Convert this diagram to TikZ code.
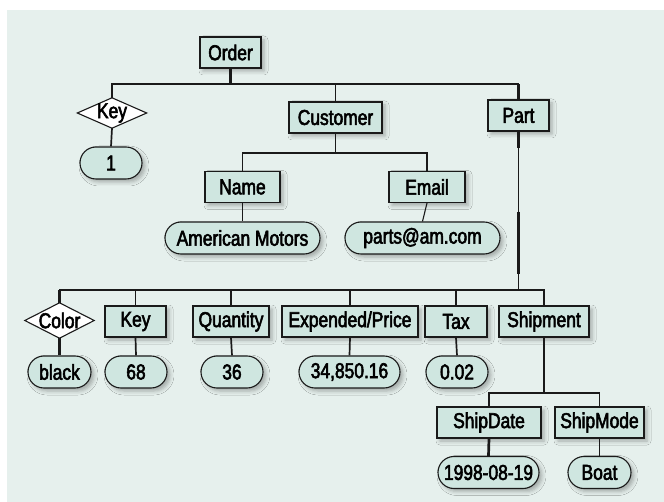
\documentclass[tikz,border=0pt]{standalone}
\usepackage{fontspec}
\setmainfont{Liberation Sans}[FakeStretch=0.81, FakeBold=2.6]
\usetikzlibrary{shapes.misc,shadows.blur}
\definecolor{panel}{HTML}{E6F0ED}
\definecolor{cellfill}{HTML}{CFE6E0}
\definecolor{wire}{HTML}{1A1A1A}
\tikzset{
  base/.style={inner sep=0pt, font=\fontsize{21.5}{25}\selectfont, text=black},
  soft/.style={blur shadow={shadow xshift=3pt, shadow yshift=-3pt, shadow blur radius=4pt, shadow opacity=30}},
  box/.style={base, rectangle, draw=wire, line width=1.1pt, fill=cellfill, soft, minimum height=31pt},
  pill/.style={base, rounded rectangle, draw=wire, line width=1.1pt, fill=cellfill, soft, minimum height=32pt},
  diaframe/.style={base, rectangle, minimum height=30pt},
  diafill/.style={draw=wire, line width=1.1pt, fill=white, line join=miter},
  label/.style={base},
  thin/.style={draw=wire, line width=1.1pt},
  mid/.style={draw=wire, line width=1.7pt},
  thick/.style={draw=wire, line width=2.7pt},
}
\begin{document}
\begin{tikzpicture}[x=1pt, y=-1pt]
\useasboundingbox (0,0) rectangle (664,502);
\fill[panel] (7,10) rectangle (664,502);

% bus lines
\coordinate (busA) at (0,84);
\coordinate (busB) at (0,153);
\coordinate (busC) at (0,290);
\coordinate (busD) at (0,393);

% top level
\node[box, minimum width=61pt] (order) at (230.5,52.5) {Order};
\node[box, minimum width=93pt] (customer) at (335.5,117.5) {Customer};
\node[box, minimum width=61pt] (part) at (518.5,115.5) {Part};

\path (112,113) node[diaframe, minimum width=69pt] (keyd) {};
\draw[diafill] (keyd.west) -- (keyd.north) -- (keyd.east) -- (keyd.south) -- cycle;
\node[label] (keyt) at (keyd.center) {Key};
\node[pill, minimum width=62pt] (one) at (111,163) {1};

% customer children
\node[box, minimum width=75pt] (name) at (242.5,187) {Name};
\node[box, minimum width=76pt] (email) at (427,187) {Email};
\node[pill, minimum width=155pt] (amc) at (242.5,238) {American Motors};
\node[pill, minimum width=155pt] (mail) at (422.5,238) {parts@am.com};

% part children
\path (59.5,320.5) node[diaframe, minimum width=69pt, minimum height=35pt] (cold) {};
\draw[diafill] (cold.west) -- (cold.north) -- (cold.east) -- (cold.south) -- cycle;
\node[label] (colt) at (cold.center) {Color};
\node[pill, minimum width=63pt] (black) at (59.5,372) {black};

\node[box, minimum width=61pt] (pkey) at (135.5,321.5) {Key};
\node[pill, minimum width=62pt] (v68) at (136,372) {68};
\node[box, minimum width=76pt] (qty) at (231,321.5) {Quantity};
\node[pill, minimum width=62pt] (v36) at (232,372) {36};
\node[box, minimum width=136pt] (price) at (350,321.5) {Expended/Price};
\node[pill, minimum width=101pt] (vprice) at (349.5,372) {34,850.16};
\node[box, minimum width=62pt] (tax) at (456,321.5) {Tax};
\node[pill, minimum width=62pt] (vtax) at (457,372) {0.02};
\node[box, minimum width=90pt] (ship) at (544,321.5) {Shipment};

% shipment children
\node[box, minimum width=104pt] (sdate) at (489,422.5) {ShipDate};
\node[box, minimum width=89pt] (smode) at (599.5,422.5) {ShipMode};
\node[pill, minimum width=101pt] (vdate) at (488.5,472.5) {1998-08-19};
\node[pill, minimum width=63pt] (vmode) at (599.5,472.5) {Boat};

% connectors: Order
\draw[thin] (keyd.north) -- (keyd.north |- busA) -| (part.north);
\draw[thick] (order.south) -- (order.south |- busA);
\draw[thin] (customer.north) -- (customer.north |- busA);
\draw[thick] (part.north) -- (part.north |- busA);
\draw[mid] (keyd.south) -- (one.north);

% connectors: Customer
\draw[mid] (customer.south) -- (customer.south |- busB);
\draw[thin] (name.north) |- (customer.south |- busB) -| (email.north);
\draw[mid] (name.south) -- (amc.north);
\draw[thin] (email.south) -- (mail.north);

% connectors: Part
\draw[thin] (part.south) -- (part.south |- busC);
\draw[thick] (part.south) -- ++(0,16);
\draw[thick] ([yshift=-80pt]part.south) -- ([yshift=-142pt]part.south);
\draw[thin] (cold.north) |- (ship.north |- busC) -- (ship.north);
\draw[thick] (cold.north) -- (cold.north |- busC);
\draw[thin] (pkey.north) -- (pkey.north |- busC);
\draw[thin] (qty.north) -- (qty.north |- busC);
\draw[thin] (price.north) -- (price.north |- busC);
\draw[thin] (tax.north) -- (tax.north |- busC);
\draw[thick] (cold.south) -- (black.north);
\draw[mid] (pkey.south) -- (v68.north);
\draw[mid] (qty.south) -- (v36.north);
\draw[mid] (price.south) -- (vprice.north);
\draw[mid] (tax.south) -- (vtax.north);

% connectors: Shipment
\draw[thin] (ship.south) -- (ship.south |- busD);
\draw[thin] (sdate.north) |- (ship.south |- busD) -| (smode.north);
\draw[thick] (sdate.north) -- (sdate.north |- busD);
\draw[mid] (smode.north) -- (smode.north |- busD);
\draw[thick] (sdate.south) -- (vdate.north);
\draw[mid] (smode.south) -- (vmode.north);
\end{tikzpicture}
\end{document}
